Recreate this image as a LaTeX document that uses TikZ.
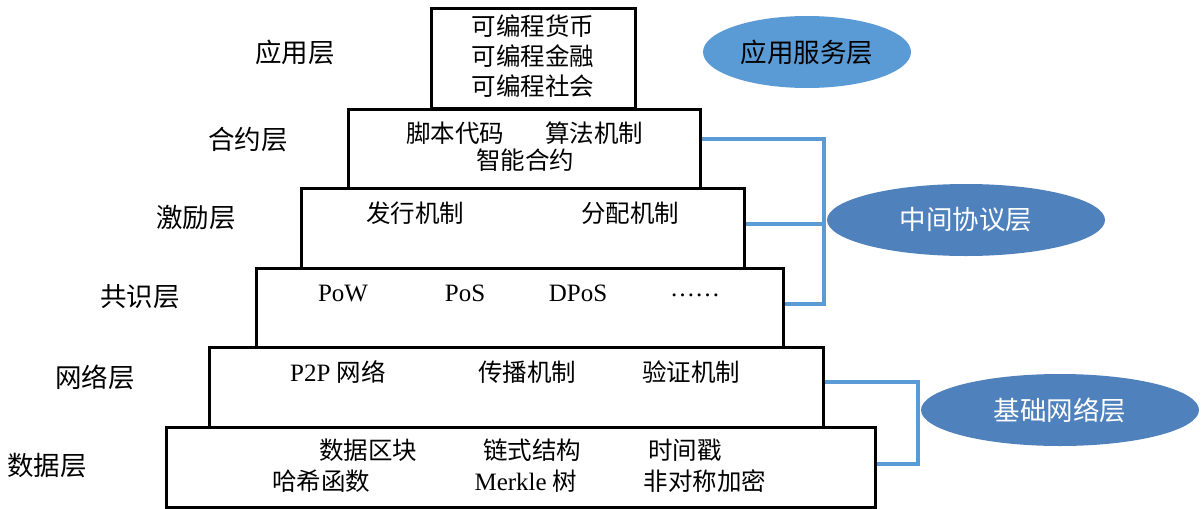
\documentclass[tikz,border=0pt]{standalone}
\usepackage{fontspec}
\setmainfont{Liberation Serif}
\newfontfamily\cjk{Noto Sans CJK SC}
\usetikzlibrary{shapes.geometric}
\definecolor{lblue}{HTML}{5B9BD5}
\definecolor{dblue}{HTML}{4F81BD}
\begin{document}
\begin{tikzpicture}[x=1pt,y=-1pt,
  layerbox/.style={draw=black,line width=3pt,inner sep=0pt},
  txt/.style={inner sep=0pt,font=\fontsize{24.5}{28}\selectfont\cjk},
  lat/.style={inner sep=0pt,font=\fontsize{25}{28}\selectfont},
  lbl/.style={inner sep=0pt,font=\fontsize{26.5}{30}\selectfont\cjk},
  bracket/.style={draw=lblue,line width=3.5pt},
  oval/.style={ellipse,inner sep=0pt,font=\fontsize{26.5}{30}\selectfont\cjk}]
\useasboundingbox (0,0) rectangle (1203,509);
% layer boxes
\node[layerbox,minimum width=204pt,minimum height=100pt] (app) at (533,58) {};
\node[layerbox,minimum width=352pt,minimum height=79pt] (contract) at (524,148.5) {};
\node[layerbox,minimum width=443pt,minimum height=80pt] (incent) at (522.5,228) {};
\node[layerbox,minimum width=527pt,minimum height=79pt] (consensus) at (519.5,307.5) {};
\node[layerbox,minimum width=614pt,minimum height=80pt] (network) at (516,387) {};
\node[layerbox,minimum width=709pt,minimum height=80pt] (data) at (520.5,467) {};
% left labels
\node[lbl] (l1) at (295,52) {应用层};
\node[lbl] (l2) at (248,140) {合约层};
\node[lbl] (l3) at (196,218) {激励层};
\node[lbl] (l4) at (140,297) {共识层};
\node[lbl] (l5) at (95,377) {网络层};
\node[lbl] (l6) at (47,466) {数据层};
% app
\node[txt] (a1) at (533,26) {可编程货币};
\node[txt] (a2) at (533,56) {可编程金融};
\node[txt] (a3) at (533,86) {可编程社会};
% contract
\node[txt] (c1) at (455,133) {脚本代码};
\node[txt] (c2) at (594,133) {算法机制};
\node[txt] (c3) at (525,160) {智能合约};
% incentive
\node[txt] (i1) at (415,213) {发行机制};
\node[txt] (i2) at (630,213) {分配机制};
% consensus
\node[lat] (p1) at (343,293) {PoW};
\node[lat] (p2) at (465,293) {PoS};
\node[lat] (p3) at (578,293) {DPoS};
\node[lat] (p4) at (695,295) {……};
% network
\node[lat] (n1) at (338,372) {P2P {\cjk\fontsize{24.5}{28}\selectfont 网络}};
\node[txt] (n2) at (527,372) {传播机制};
\node[txt] (n3) at (691,372) {验证机制};
% data
\node[txt] (d1) at (368,450) {数据区块};
\node[txt] (d2) at (532,450) {链式结构};
\node[txt] (d3) at (685,450) {时间戳};
\node[txt] (d4) at (321,481) {哈希函数};
\node[lat] (d5) at (526,481) {Merkle {\cjk\fontsize{24.5}{28}\selectfont 树}};
\node[txt] (d6) at (705,481) {非对称加密};
% ellipses
\node[oval,fill=lblue,text=black,minimum width=208pt,minimum height=72pt] (e1) at (807,52) {应用服务层};
\node[oval,fill=dblue,text=white,minimum width=278pt,minimum height=72pt] (e2) at (966,220) {中间协议层};
\node[oval,fill=dblue,text=white,minimum width=278pt,minimum height=72pt] (e3) at (1060,410) {基础网络层};
% brackets
\coordinate (mt) at (824,139);
\coordinate (mm) at (824,224);
\coordinate (mb) at (824,304);
\coordinate (bt) at (918,382);
\coordinate (bb) at (918,464);
\draw[bracket] (contract.east |- mt) -- (mt) -- (mb) -- (consensus.east |- mb);
\draw[bracket] (incent.east |- mm) -- (mm);
\draw[bracket] (network.east |- bt) -- (bt) -- (bb) -- (data.east |- bb);
\end{tikzpicture}
\end{document}
